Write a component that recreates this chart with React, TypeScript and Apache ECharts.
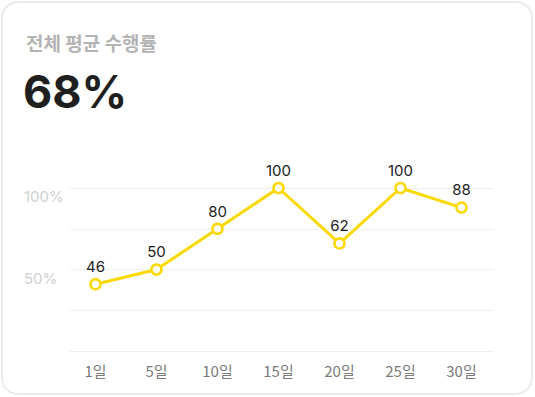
import React, { useEffect, useRef } from "react";
import * as echarts from "echarts";

const days = ["1일", "5일", "10일", "15일", "20일", "25일", "30일"];
// numbers printed above each point
const rateLabels = [46, 50, 80, 100, 62, 100, 88];
// vertical position of each point as drawn in the picture (% scale)
const plotLevels = [41, 50, 75, 100, 66, 100, 88];
const yTickLabels: Record<number, string> = { 50: "50%", 100: "100%" };
const titleText = "전체 평균 수행률";
const averageText = "68%";

const KR = "'Noto Sans CJK KR', 'Noto Sans', sans-serif";
const LATIN = "Inter, 'Noto Sans CJK KR', sans-serif";

export default function App() {
  const ref = useRef<HTMLDivElement>(null);
  useEffect(() => {
    if (!ref.current) return;
    const chart = echarts.init(ref.current, undefined, { renderer: "svg" });
    chart.setOption({
      animation: false,
      backgroundColor: "#ffffff",
      graphic: [
        {
          type: "rect",
          shape: { x: 2, y: 2, width: 530, height: 392, r: 16 },
          style: { fill: "#ffffff", stroke: "#ebebeb", lineWidth: 2 },
          z: -10,
        },
      ],
      title: [
        {
          text: titleText,
          left: 21,
          top: 28,
          textStyle: { fontFamily: KR, fontSize: 19, fontWeight: "bold", color: "#b3b3b3" },
        },
        {
          text: averageText,
          left: 18,
          top: 64,
          textStyle: { fontFamily: LATIN, fontSize: 45, fontWeight: "bold", color: "#1f1f1f" },
        },
      ],
      grid: [
        { left: 70, right: 41, top: 188, bottom: 46 },
        { left: 65, right: 43, top: 188, bottom: 46 },
      ],
      xAxis: [
        {
          type: "category",
          gridIndex: 0,
          data: days,
          show: false,
        },
        {
          type: "category",
          gridIndex: 1,
          data: days,
          boundaryGap: true,
          axisLine: { show: false },
          axisTick: { show: false },
          axisLabel: { fontFamily: KR, fontSize: 15, color: "#7a7a7a", margin: 12 },
        },
      ],
      yAxis: [
        {
          type: "value",
          gridIndex: 0,
          min: 0,
          max: 100,
          interval: 25,
          axisLine: { show: false },
          axisTick: { show: false },
          splitLine: { lineStyle: { color: "#efefef", width: 1 } },
          axisLabel: {
            align: "left",
            margin: 46,
            verticalAlign: "top",
            padding: [1, 0, 0, 0],
            fontFamily: LATIN,
            fontSize: 15,
            color: "#d0d0d0",
            formatter: (v: number) => yTickLabels[v] ?? "",
          },
        },
        {
          type: "value",
          gridIndex: 1,
          min: 0,
          max: 100,
          interval: 25,
          show: false,
          splitLine: { show: false },
        },
      ],
      series: [
        {
          type: "line",
          xAxisIndex: 1,
          yAxisIndex: 1,
          data: plotLevels,
          symbol: "circle",
          symbolSize: 10,
          itemStyle: { color: "#ffffff", borderColor: "#FAD800", borderWidth: 2.5 },
          lineStyle: { color: "#FAD800", width: 3 },
          label: {
            show: true,
            position: "top",
            distance: 4,
            fontFamily: LATIN,
            fontSize: 15,
            color: "#222222",
            formatter: (p: any) => String(rateLabels[p.dataIndex]),
          },
          z: 5,
        },
      ],
    });
    return () => chart.dispose();
  }, []);
  return (
    <div
      ref={ref}
      style={{ position: "fixed", left: 0, top: 0, width: 535, height: 397 }}
    />
  );
}
